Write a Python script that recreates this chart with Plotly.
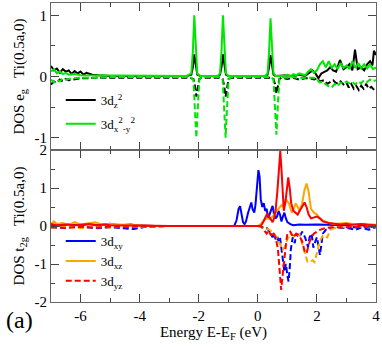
import plotly.graph_objects as go

# ---------------- top panel: e_g (3d_z2, 3d_x2-y2) ----------------
E_z2_up = [-7.0,-6.9,-6.8,-6.7,-6.6,-6.5,-6.4,-6.3,-6.2,-6.1,
           -6.0,-5.9,-5.8,-5.7,-5.6,-5.4,-5.0,-4.0,-3.0,-2.4,
           -2.25,-2.2,-2.15,-2.1,-2.05,-1.95,
           -1.35,-1.28,-1.23,-1.18,-1.13,-1.08,-1.0,
           0.25,0.33,0.38,0.43,0.48,0.53,0.6,
           1.0,1.2,1.4,1.6,1.75,1.85,1.95,2.05,2.15,2.25,
           2.35,2.45,2.55,2.65,2.78,2.9,3.0,3.1,3.2,3.29,
           3.38,3.5,3.6,3.7,3.8,3.88,3.93,4.0]
D_z2_up = [0.17,0.1,0.13,0.06,0.12,0.08,0.1,0.04,0.09,0.05,
           0.08,0.03,0.06,0.04,0.03,0.02,0.01,0.01,0.01,0.01,
           0.03,0.15,0.36,0.15,0.03,0.01,
           0.01,0.03,0.15,0.36,0.15,0.03,0.01,
           0.01,0.03,0.15,0.35,0.15,0.03,0.01,
           0.02,0.0,0.03,0.01,0.06,0.1,0.05,-0.03,0.05,0.08,
           0.1,0.15,0.1,0.08,0.27,0.12,0.15,0.2,0.1,0.44,
           0.12,0.15,0.1,0.2,0.25,0.18,0.42,0.35]

E_z2_dn = [-7.0,-6.9,-6.8,-6.7,-6.6,-6.5,-6.4,
           -6.2,-6.0,-5.8,
           -5.5,-5.0,-4.0,-3.0,-2.3,
           -2.18,-2.13,-2.08,-2.03,-1.98,-1.9,
           -1.3,-1.19,-1.14,-1.09,-1.04,-0.99,-0.9,
           0.45,0.53,0.58,0.63,0.68,0.73,0.8,
           1.0,1.2,1.4,1.6,1.75,
           1.9,2.0,2.1,2.25,2.35,
           2.47,2.55,2.63,2.72,2.8,
           2.9,3.0,3.08,3.16,3.25,
           3.33,3.42,3.5,3.58,3.67,
           3.75,3.84,3.92,4.0]
D_z2_dn = [-0.13,-0.08,-0.1,-0.05,-0.08,-0.04,-0.06,
           -0.04,-0.03,-0.03,
           -0.02,-0.02,-0.02,-0.02,-0.02,
           -0.04,-0.15,-0.33,-0.15,-0.04,-0.02,
           -0.02,-0.04,-0.15,-0.33,-0.15,-0.04,-0.02,
           -0.02,-0.04,-0.12,-0.28,-0.12,-0.04,-0.02,
           -0.04,-0.02,-0.05,-0.03,-0.03,
           -0.05,-0.03,-0.08,-0.06,-0.12,
           -0.08,-0.06,-0.1,-0.12,-0.08,
           -0.13,-0.1,-0.18,-0.12,-0.2,
           -0.15,-0.22,-0.15,-0.2,-0.12,
           -0.2,-0.17,-0.22,-0.25]

E_x2_up = [-7.0,-6.9,-6.8,-6.7,-6.6,-6.5,-6.4,-6.2,-6.0,-5.5,
           -5.0,-4.0,-3.0,-2.4,-2.25,-2.2,-2.15,-2.1,-2.05,-1.95,
           -1.35,-1.28,-1.23,-1.18,-1.13,-1.08,-1.0,
           0.25,0.33,0.38,0.43,0.48,0.53,0.6,
           0.9,1.0,1.1,1.2,1.3,1.4,1.5,1.6,1.7,1.8,1.9,2.0,2.1,2.2,2.3,2.4,
           2.5,2.6,2.7,2.8,2.9,3.0,3.1,3.2,3.3,3.4,3.5,3.6,3.7,3.8,3.9,4.0]
D_x2_up = [0.08,0.12,0.05,0.08,0.04,0.06,0.03,0.04,0.02,0.02,
           0.01,0.01,0.01,0.01,0.05,0.4,1.0,0.4,0.05,0.01,
           0.01,0.05,0.4,1.0,0.4,0.05,0.01,
           0.01,0.05,0.4,0.95,0.4,0.05,0.01,
           0.01,0.03,0.0,0.04,0.02,0.05,0.03,0.02,0.08,0.12,0.06,0.1,0.2,0.25,0.15,0.25,
           0.14,0.2,0.12,0.22,0.14,0.18,0.12,0.25,0.14,0.22,0.13,0.2,0.13,0.2,0.12,0.15]

E_x2_dn = [-7.0,-6.9,-6.8,-6.7,-6.6,-6.5,
           -6.3,-6.0,-5.5,-5.0,
           -4.0,-3.0,-2.3,
           -2.18,-2.13,-2.08,-2.03,-1.98,-1.9,
           -1.3,-1.19,-1.14,-1.09,-1.04,-0.99,-0.9,
           0.45,0.53,0.58,0.63,0.68,0.73,0.8,
           1.0,1.2,1.4,1.6,1.75,
           1.9,2.0,2.1,2.2,2.3,2.4,2.5,2.6,2.7,2.8,2.9,
           3.0,3.1,3.2,3.3,3.4,3.5,3.6,3.7,3.8,3.9,4.0]
D_x2_dn = [-0.05,-0.1,-0.06,-0.08,-0.03,-0.05,
           -0.03,-0.02,-0.02,-0.01,
           -0.01,-0.01,-0.01,
           -0.05,-0.5,-1.0,-0.5,-0.05,-0.01,
           -0.01,-0.05,-0.5,-1.0,-0.5,-0.05,-0.01,
           -0.01,-0.05,-0.45,-0.95,-0.45,-0.05,-0.01,
           -0.02,-0.01,-0.03,-0.02,-0.02,
           -0.02,-0.05,-0.1,-0.08,-0.13,-0.16,-0.18,-0.12,-0.16,-0.1,-0.12,
           -0.08,-0.11,-0.09,-0.13,-0.08,-0.11,-0.06,-0.09,-0.05,-0.08,-0.06]

# ---------------- bottom panel: t_2g (3d_xy, 3d_xz, 3d_yz) ----------------
E_xy_up = [-7.0,-6.7,-6.4,-6.0,-5.7,-5.4,-5.0,-4.7,-4.3,-4.0,
           -3.5,-1.0,-0.8,-0.72,-0.65,-0.6,-0.55,-0.5,-0.45,-0.4,
           -0.33,-0.28,-0.22,-0.18,-0.12,-0.08,-0.03,0.02,0.06,0.1,
           0.15,0.2,0.25,0.3,0.35,0.4,0.45,0.5,0.55,0.6,0.65,0.7,0.75,0.8,0.85,0.9,0.95,1.0,
           1.1,1.2,1.4,1.6,2.0,2.5,3.0,3.3,3.5,3.75,4.0]
D_xy_up = [0.03,0.01,0.04,0.02,0.05,0.02,0.06,0.02,0.04,0.01,
           0.0,0.0,0.0,0.15,0.45,0.52,0.3,0.1,0.05,0.12,
           0.35,0.5,0.62,0.45,0.35,0.55,0.95,1.47,1.3,0.7,
           0.5,0.6,0.4,0.45,0.2,0.3,0.45,0.53,0.3,0.2,0.25,0.4,0.3,0.12,0.25,0.35,0.2,0.1,
           0.05,0.02,0.04,0.03,0.04,0.03,0.02,-0.04,0.03,-0.04,0.0]

E_xy_dn = [-7.0,-6.6,-6.2,-5.8,-5.4,-5.0,-4.6,-4.2,-3.8,-3.0,
           0.0,0.3,0.4,0.5,0.55,0.6,0.65,0.7,0.75,0.8,
           0.85,0.9,0.95,1.0,1.04,1.08,1.12,1.18,1.25,1.3,
           1.4,1.5,1.6,1.7,1.75,1.82,1.88,1.95,2.0,2.05,
           2.1,2.15,2.2,2.3,2.5,3.0,3.3,3.5,3.75,4.0]
D_xy_dn = [-0.03,-0.05,-0.02,-0.04,-0.06,-0.03,-0.05,-0.08,-0.02,0.0,
           0.0,-0.05,-0.15,-0.3,-0.2,-0.35,-0.25,-0.4,-0.3,-0.55,
           -0.9,-1.2,-1.0,-1.3,-1.46,-1.1,-0.6,-0.3,-0.45,-0.2,
           -0.3,-0.15,-0.3,-0.55,-0.3,-0.2,-0.57,-0.4,-0.3,-0.5,
           -0.76,-0.5,-0.2,-0.1,-0.05,-0.05,-0.1,-0.04,-0.1,-0.03]

E_xz_up = [-7.0,-6.9,-6.8,-6.6,-6.4,-6.2,-6.0,-5.8,-5.5,-5.3,
           -5.0,-4.5,-4.0,-3.5,
           0.0,0.1,0.2,0.3,0.4,0.5,0.6,0.7,0.8,
           0.85,0.95,1.05,1.15,1.22,1.28,1.35,1.42,1.5,1.58,
           1.65,1.72,1.8,1.9,2.0,2.1,2.2,2.4,2.6,2.8,
           3.0,3.3,3.6,4.0]
D_xz_up = [0.05,0.12,0.05,0.08,0.03,0.1,0.04,0.06,0.1,0.04,
           0.05,0.03,0.02,0.0,
           0.0,0.05,0.15,0.2,0.18,0.25,0.35,0.45,0.55,
           0.5,0.7,0.6,0.35,0.45,0.6,0.5,0.4,0.6,0.95,
           1.12,0.9,0.45,0.35,0.3,0.2,0.15,0.08,0.05,0.06,
           0.08,0.04,0.06,0.03]

E_xz_dn = [-7.0,-6.5,-6.0,-5.5,-5.0,-4.5,-4.0,-3.0,
           0.0,0.2,0.4,0.6,0.7,0.78,0.85,0.92,1.0,1.1,
           1.2,1.3,1.4,1.5,1.6,1.68,1.75,1.85,1.92,2.0,
           2.1,2.2,2.35,2.45,2.6,3.0,4.0]
D_xz_dn = [-0.04,-0.02,-0.05,-0.03,-0.04,-0.02,-0.02,0.0,
           0.0,-0.05,-0.1,-0.25,-0.4,-0.5,-0.62,-0.55,-0.35,-0.2,
           -0.25,-0.3,-0.2,-0.45,-0.75,-0.94,-0.95,-0.9,-0.95,-0.7,
           -0.4,-0.25,-0.3,-0.1,-0.05,-0.03,-0.02]

E_yz_up = [-7.0,-6.8,-6.5,-6.2,-6.0,-5.7,-5.5,-5.2,-5.0,-4.5,
           -4.0,-3.0,0.1,0.18,0.25,0.32,0.38,0.45,0.5,0.55,
           0.6,0.66,0.71,0.76,0.8,0.84,0.88,0.93,0.98,1.03,
           1.08,1.13,1.2,1.28,1.35,1.42,1.5,1.58,1.65,1.72,
           1.8,1.9,2.0,2.1,2.2,2.4,2.6,2.8,3.0,3.2,
           3.5,3.7,4.0]
D_yz_up = [0.05,0.02,0.04,0.02,0.03,0.05,0.02,0.04,0.02,0.02,
           0.01,0.0,0.0,0.1,0.2,0.33,0.25,0.15,0.1,0.2,
           0.4,0.9,1.6,1.97,1.5,0.7,0.4,0.6,1.0,1.28,
           1.0,0.6,0.4,0.35,0.3,0.4,0.5,0.62,0.5,0.3,
           0.2,0.22,0.25,0.2,0.12,0.08,0.05,0.04,0.06,0.03,
           0.05,0.03,0.02]

E_yz_dn = [-7.0,-6.5,-6.0,-5.5,-5.0,-4.5,-4.0,-3.0,
           0.1,0.2,0.3,0.35,0.45,0.5,0.6,0.68,0.74,0.79,
           0.84,0.9,0.95,1.0,1.1,1.2,1.3,1.4,1.5,1.58,
           1.65,1.72,1.8,1.9,2.0,2.1,2.3,2.5,3.0,4.0]
D_yz_dn = [-0.03,-0.05,-0.02,-0.04,-0.02,-0.03,-0.01,0.0,
           0.0,-0.1,-0.2,-0.12,-0.25,-0.15,-0.3,-0.6,-1.2,-1.68,
           -1.3,-0.8,-0.5,-0.2,-0.15,-0.3,-0.2,-0.25,-0.4,-0.65,
           -0.72,-0.5,-0.3,-0.2,-0.15,-0.1,-0.05,-0.03,-0.03,-0.02]

# tick labels
X_TICKS = [-6, -4, -2, 0, 2, 4]
X_TICKTEXT = ["-6", "-4", "-2", "0", "2", "4"]
X_MINOR = [-5, -3, -1, 1, 3]
Y1_TICKS = [-1, 0, 1]
Y1_TICKTEXT = ["-1", "0", "1"]
Y1_MINOR = [-0.5, 0.5]
Y2_TICKS = [-2, -1, 0, 1, 2]
Y2_TICKTEXT = ["-2", "-1", "0", "1", "2"]
Y2_MINOR = [-1.5, -0.5, 0.5, 1.5]

SERIF = "Liberation Serif"
GREEN = "#00e600"
BLUE = "#0000ff"
ORANGE = "#ffa500"
RED = "#ff0000"
DASH = "6px,3px"
LW = 2

fig = go.Figure()

def add(x, y, color, xa, ya, dash=None, name=None, legend=None, group=None, width=LW):
    fig.add_trace(go.Scatter(
        x=x, y=y, mode="lines", xaxis=xa, yaxis=ya,
        line=dict(color=color, width=width, dash=dash),
        name=name if name else "", showlegend=name is not None,
        legend=legend if legend else "legend",
        legendgroup=group,
    ))

# top panel
add(E_z2_up, D_z2_up, "black", "x", "y", name="3d<sub>z</sub><sup>2</sup>", group="a")
add(E_z2_dn, D_z2_dn, "black", "x", "y", dash=DASH)
add(E_x2_up, D_x2_up, GREEN, "x", "y",
    name="3d<sub>x</sub><sup>2</sup><sub>-y</sub><sup>2</sup>", group="b")
add(E_x2_dn, D_x2_dn, GREEN, "x", "y", dash=DASH)

# bottom panel
add(E_xy_up, D_xy_up, BLUE, "x2", "y2", name="3d<sub>xy</sub>", legend="legend2")
add(E_xz_up, D_xz_up, ORANGE, "x2", "y2", name="3d<sub>xz</sub>", legend="legend2")
add(E_xy_dn, D_xy_dn, BLUE, "x2", "y2", dash=DASH)
add(E_xz_dn, D_xz_dn, ORANGE, "x2", "y2", dash=DASH)
add(E_yz_up, D_yz_up, RED, "x2", "y2")
add(E_yz_dn, D_yz_dn, RED, "x2", "y2", dash=DASH, name="3d<sub>yz</sub>", legend="legend2")

axis_common = dict(
    showline=True, linecolor="#666666", linewidth=1, mirror="ticks",
    ticks="inside", ticklen=8, tickwidth=1, tickcolor="#444444",
    zeroline=False, showgrid=False, automargin=False,
    tickfont=dict(family=SERIF, size=15, color="black"),
)

bottom_frac = 152 / 299

fig.update_layout(
    width=382, height=347,
    margin=dict(l=51, r=6, t=3, b=45),
    paper_bgcolor="white", plot_bgcolor="white",
    font=dict(family=SERIF, size=14, color="black"),
    xaxis=dict(axis_common, domain=[0, 1], anchor="y", range=[-7, 4],
               tickmode="array", tickvals=X_TICKS, ticktext=X_TICKTEXT,
               showticklabels=False,
               minor=dict(tickmode="array", tickvals=X_MINOR, ticklen=4,
                          ticks="inside", tickcolor="#444444")),
    xaxis2=dict(axis_common, domain=[0, 1], anchor="y2", range=[-7, 4],
                tickmode="array", tickvals=X_TICKS, ticktext=X_TICKTEXT,
                minor=dict(tickmode="array", tickvals=X_MINOR, ticklen=4,
                           ticks="inside", tickcolor="#444444"),
                title=dict(text="Energy E-E<sub>F</sub> (eV)",
                           font=dict(family=SERIF, size=15), standoff=2)),
    yaxis=dict(axis_common, domain=[bottom_frac, 1], anchor="x", range=[-1.2, 1.2],
               tickmode="array", tickvals=Y1_TICKS, ticktext=Y1_TICKTEXT,
               minor=dict(tickmode="array", tickvals=Y1_MINOR, ticklen=4,
                          ticks="inside", tickcolor="#444444"),
               title=dict(text="DOS e<sub>g</sub>\u00a0\u00a0 Ti(0.5a,0)",
                          font=dict(family=SERIF, size=15), standoff=6)),
    yaxis2=dict(axis_common, domain=[0, bottom_frac], anchor="x2", range=[-2, 2],
                tickmode="array", tickvals=Y2_TICKS, ticktext=Y2_TICKTEXT,
                minor=dict(tickmode="array", tickvals=Y2_MINOR, ticklen=4,
                           ticks="inside", tickcolor="#444444"),
                title=dict(text="DOS t<sub>2g</sub>\u00a0\u00a0 Ti(0.5a,0)",
                           font=dict(family=SERIF, size=15), standoff=6)),
    legend=dict(x=0.03, y=0.726, xanchor="left", yanchor="top",
                bgcolor="rgba(0,0,0,0)", font=dict(family=SERIF, size=13),
                traceorder="grouped", tracegroupgap=4),
    legend2=dict(x=0.03, y=0.254, xanchor="left", yanchor="top",
                 bgcolor="rgba(0,0,0,0)", font=dict(family=SERIF, size=13),
                 traceorder="normal", tracegroupgap=0),
    annotations=[dict(text="(a)", xref="paper", yref="paper", x=-0.145, y=-0.06,
                      xanchor="left", yanchor="middle", showarrow=False,
                      font=dict(family=SERIF, size=24, color="black"))],
)

fig.write_html("out.html", config={"displayModeBar": False},
               post_script="document.body.style.margin='0';document.body.style.padding='0';")
